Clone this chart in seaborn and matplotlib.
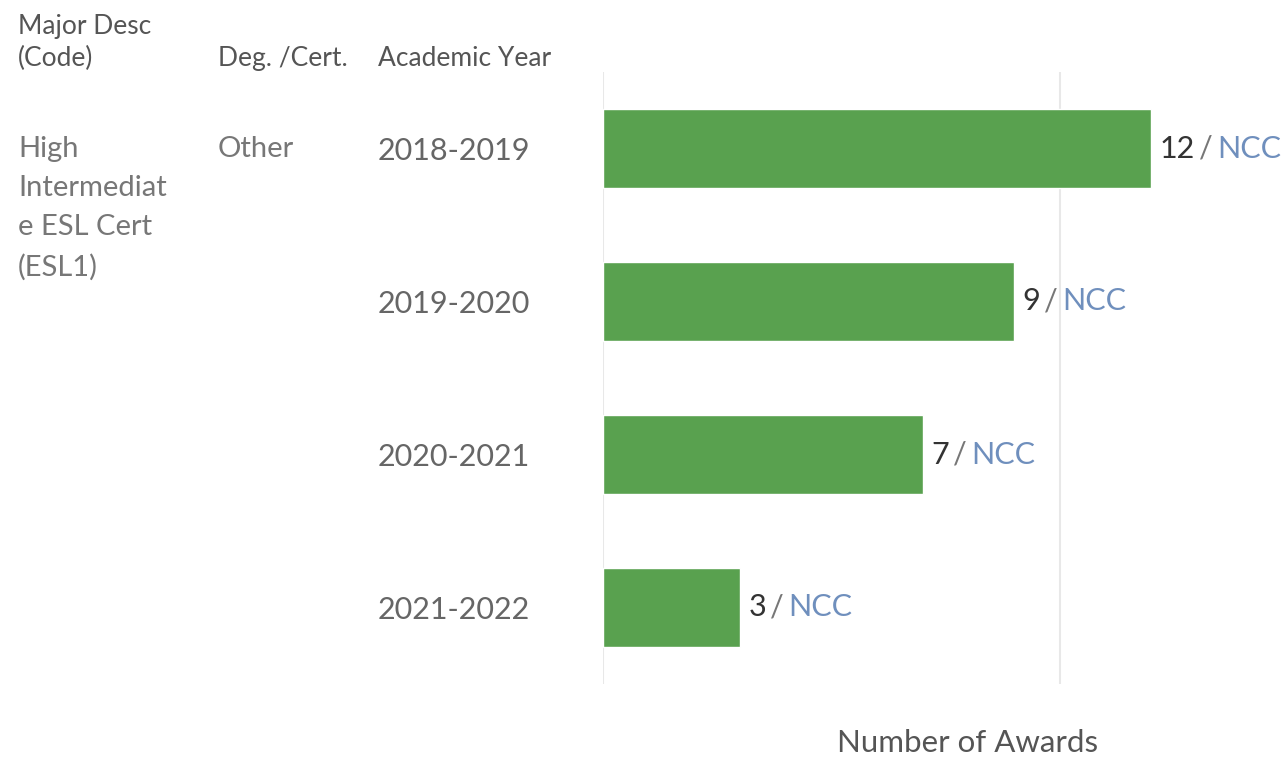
import matplotlib
matplotlib.use("Agg")
import matplotlib.pyplot as plt
import seaborn as sns
import pandas as pd
from matplotlib.offsetbox import TextArea, HPacker, AnnotationBbox

years = ["2018-2019", "2019-2020", "2020-2021", "2021-2022"]
awards = [12, 9, 7, 3]
college = ["NCC", "NCC", "NCC", "NCC"]
major_desc = "High\nIntermediat\ne ESL Cert\n(ESL1)"
deg_cert = "Other"

df = pd.DataFrame({"Academic Year": years, "Number of Awards": awards, "College": college})

sns.set_theme(style="white")
plt.rcParams["font.family"] = ["Lato", "DejaVu Sans"]

W, H = 1286, 760
fig = plt.figure(figsize=(W / 100, H / 100), dpi=100)
ax = fig.add_axes([603 / W, 1 - 684 / H, 1 - 603 / W, (684 - 72) / H])

sns.barplot(data=df, y="Academic Year", x="Number of Awards", orient="h",
            color="#59a14f", saturation=1, width=0.516, ax=ax)

ax.set_xlim(0, 14.95)
ax.set_ylim(3.5, -0.5)
ax.set_xticks([0, 10])
ax.set_xticklabels([])
ax.xaxis.grid(True, color="#e8e8e8", linewidth=1.5)
ax.set_axisbelow(True)
for s in ax.spines.values():
    s.set_visible(False)
ax.tick_params(axis="x", length=0)
ax.tick_params(axis="y", length=0, pad=162, labelsize=22, labelcolor="#666666")
for lab in ax.get_yticklabels():
    lab.set_horizontalalignment("left")
ax.set_ylabel("")
ax.set_xlabel("")

# bar labels
for i, (v, c) in enumerate(zip(awards, college)):
    parts = [TextArea(str(v), textprops=dict(color="#333333", fontsize=22)),
             TextArea("/", textprops=dict(color="#777777", fontsize=22)),
             TextArea(c, textprops=dict(color="#6f8fbd", fontsize=22))]
    box = HPacker(children=parts, align="baseline", pad=0, sep=3)
    ab = AnnotationBbox(box, (v, i), xybox=(6, 0), xycoords="data",
                        boxcoords="offset points", box_alignment=(0, 0.5),
                        frameon=False, annotation_clip=False)
    ax.add_artist(ab)

# headers
hdr = dict(fontsize=19, color="#555555", va="baseline", ha="left")
fig.text(18 / W, 1 - 66 / H, "Major Desc\n(Code)", linespacing=1.35, **hdr)
fig.text(218 / W, 1 - 66 / H, "Deg. /Cert.", **hdr)
fig.text(378 / W, 1 - 66 / H, "Academic Year", **hdr)

body = dict(fontsize=21, color="#777777", ha="left")
fig.text(18 / W, 1 - 136 / H, major_desc, va="top", linespacing=1.62, **body)
fig.text(218 / W, 1 - 136 / H, deg_cert, va="top", **body)

fig.text(968 / W, 1 - 752 / H, "Number of Awards", fontsize=22.5, color="#555555",
         ha="center", va="baseline")

fig.savefig("out.png", dpi=100)
